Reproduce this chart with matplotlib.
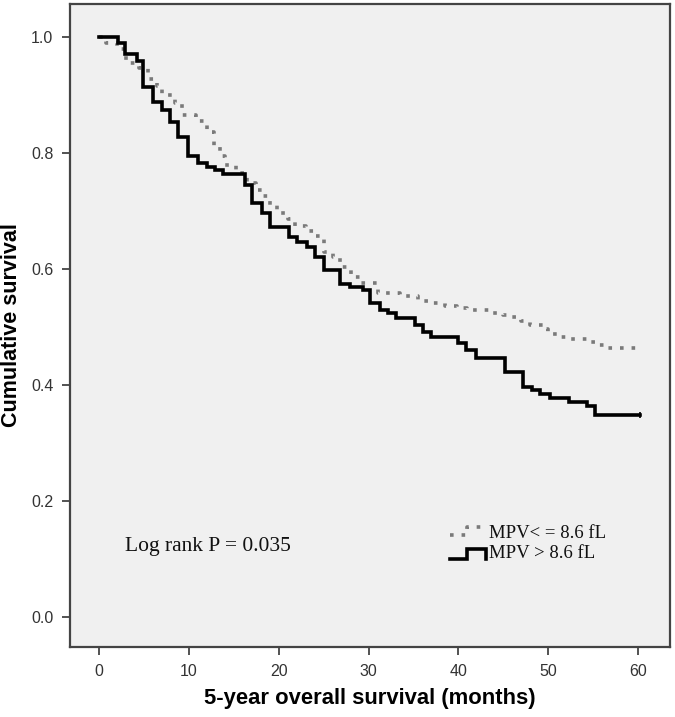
import matplotlib
matplotlib.use("Agg")
import matplotlib.pyplot as plt
from matplotlib.lines import Line2D

# ---- data ----
solid_t = [0, 2.15, 2.9, 4.2, 4.9, 6.0, 7.0, 7.9, 8.8, 9.9, 11.05, 12.0, 12.9, 13.8,
           16.2, 17.0, 18.1, 19.0, 21.1, 22.0, 23.1, 24.0, 25.0, 26.8, 27.9, 29.4,
           30.2, 31.3, 32.2, 33.1, 35.2, 36.1, 37.0, 40.0, 40.9, 42.0, 45.2, 47.2,
           48.2, 49.1, 50.2, 52.3, 54.3, 55.2, 60.2]
solid_s = [1.0, 0.99, 0.97, 0.959, 0.914, 0.888, 0.874, 0.854, 0.828, 0.794, 0.782,
           0.776, 0.771, 0.764, 0.745, 0.713, 0.696, 0.673, 0.656, 0.647, 0.638,
           0.621, 0.598, 0.575, 0.569, 0.564, 0.541, 0.529, 0.524, 0.516, 0.503,
           0.492, 0.483, 0.472, 0.460, 0.446, 0.423, 0.396, 0.391, 0.384, 0.377,
           0.371, 0.363, 0.348, 0.348]

dotted_t = [0, 0.8, 2.0, 3.0, 4.5, 5.5, 6.5, 7.0, 8.5, 9.2, 10.8, 12.0, 12.8, 13.5,
            14.0, 15.2, 16.5, 17.5, 18.3, 19.0, 19.8, 21.0, 21.8, 23.0, 24.2, 25.0,
            26.0, 26.8, 28.0, 29.0, 31.0, 33.5, 35.5, 37.0, 38.5, 39.8, 41.0, 43.5,
            45.0, 46.0, 47.0, 48.0, 49.5, 50.0, 51.0, 52.5, 54.5, 55.5, 56.5, 60.0]
dotted_s = [1.0, 0.99, 0.98, 0.955, 0.946, 0.927, 0.915, 0.90, 0.886, 0.866, 0.855,
            0.837, 0.812, 0.795, 0.779, 0.765, 0.748, 0.737, 0.726, 0.71, 0.697,
            0.687, 0.675, 0.666, 0.657, 0.630, 0.620, 0.604, 0.586, 0.576, 0.559,
            0.553, 0.545, 0.541, 0.536, 0.532, 0.530, 0.525, 0.521, 0.517, 0.511,
            0.503, 0.497, 0.488, 0.483, 0.479, 0.475, 0.469, 0.464, 0.464]

x_ticks = [0, 10, 20, 30, 40, 50, 60]
y_ticks = [0.0, 0.2, 0.4, 0.6, 0.8, 1.0]
legend_labels = ["MPV< = 8.6 fL", "MPV > 8.6 fL"]
annotation = "Log rank P = 0.035"
x_label = "5-year overall survival (months)"
y_label = "Cumulative survival"

DOT_STYLE = (0, (1.0, 2.2))
DOT_COLOR = "#7a7a7a"

# ---- figure ----
fig = plt.figure(figsize=(6.75, 7.17), dpi=100)
ax = fig.add_axes([70/675, 1 - 647/717, 600/675, 643/717])
ax.set_facecolor("#f0f0f0")

ax.plot(dotted_t, dotted_s, drawstyle="steps-post", color=DOT_COLOR,
        linewidth=2.6, linestyle=DOT_STYLE, dash_capstyle="butt")
ax.plot(solid_t, solid_s, drawstyle="steps-post", color="black", linewidth=2.6,
        solid_joinstyle="miter")
# censor tick at end of solid curve
ax.plot([solid_t[-1]], [solid_s[-1]], marker="|", color="black", markersize=5,
        markeredgewidth=1.2)

ax.set_xlim(-3.23, 63.56)
ax.set_ylim(-0.0517, 1.0569)
ax.set_xticks(x_ticks)
ax.set_xticklabels([str(v) for v in x_ticks])
ax.set_yticks(y_ticks)
ax.set_yticklabels([f"{v:.1f}" for v in y_ticks])

for sp in ax.spines.values():
    sp.set_color("#444444")
    sp.set_linewidth(1.6)

ax.tick_params(axis="both", direction="out", length=6, width=1.3, color="#444444",
               labelcolor="#333333", labelsize=11.5, pad=6)
for lab in ax.get_xticklabels() + ax.get_yticklabels():
    lab.set_family("Liberation Sans")

ax.set_xlabel(x_label, family="Liberation Sans", fontweight="bold", fontsize=15.8)
ax.xaxis.set_label_coords(0.5, -(688 - 647) / 643)
ax.set_ylabel(y_label, family="Liberation Sans", fontweight="bold", fontsize=15.5)
ax.yaxis.set_label_coords((22 - 70) / 600, 0.5)

ax.text((125 - 70) / 600, (647 - 547) / 643, annotation, transform=ax.transAxes,
        family="Liberation Serif", fontsize=15.5, va="center", ha="left",
        color="#111111")

# legend (SPSS style step samples)
ax.add_line(Line2D([0.633, 0.662, 0.662, 0.695], [0.174, 0.174, 0.187, 0.187],
                   transform=ax.transAxes, color=DOT_COLOR, linewidth=2.6,
                   linestyle=DOT_STYLE))
ax.add_line(Line2D([0.633, 0.662, 0.662, 0.694, 0.694], [0.137, 0.137, 0.152, 0.152, 0.137],
                   transform=ax.transAxes, color="black", linewidth=2.6,
                   solid_joinstyle="miter"))
ax.text(0.698, (647 - 533) / 643, legend_labels[0], transform=ax.transAxes,
        family="Liberation Serif", fontsize=13.5, va="center", ha="left", color="#111111")
ax.text(0.698, (647 - 554) / 643, legend_labels[1], transform=ax.transAxes,
        family="Liberation Serif", fontsize=13.5, va="center", ha="left", color="#111111")

fig.savefig("out.png", dpi=100, facecolor="white")
